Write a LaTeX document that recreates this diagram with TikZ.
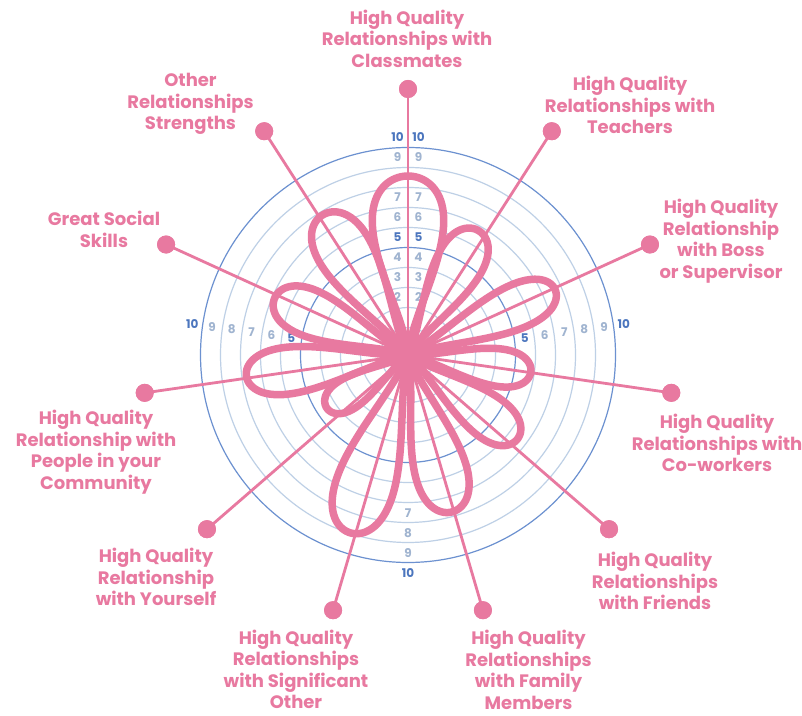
\documentclass[tikz,border=0pt]{standalone}
\usepackage{fontspec}
\newfontfamily\lblfont{Poppins Bold}
\definecolor{pinkc}{RGB}{232,121,160}
\definecolor{ringdark}{RGB}{108,145,208}
\definecolor{ringlight}{RGB}{190,208,230}
\definecolor{numdark}{RGB}{76,118,190}
\definecolor{numlight}{RGB}{160,180,208}
\begin{document}
\begin{tikzpicture}[x=1pt,y=1pt,
  ringd/.style={draw=ringdark, line width=1.2pt},
  ringl/.style={draw=ringlight, line width=1.2pt},
  spoke/.style={draw=pinkc, line width=2.8pt},
  petal/.style={draw=pinkc, line width=7.5pt, line join=round},
  dot/.style={circle, fill=pinkc, minimum size=18pt, inner sep=0pt},
  lbl/.style={text=pinkc, font=\lblfont\fontsize{18}{21.5}\selectfont, align=center, inner sep=0pt},
  numd/.style={text=numdark, font=\lblfont\fontsize{12}{12}\selectfont, inner sep=0pt},
  numl/.style={text=numlight, font=\lblfont\fontsize{12}{12}\selectfont, inner sep=0pt}]
\useasboundingbox[fill=white] (0,0) rectangle (802,715);
\coordinate (O) at (408,360);
% rings
\foreach \n in {1,2,3,4,6,7,8,9}{
  \draw[ringl] (O) circle[radius={20*\n+7.5}];
}
\foreach \n in {5,10}{
  \draw[ringd] (O) circle[radius={20*\n+7.5}];
}
% scale numbers
\foreach \n/\s in {2/numl,3/numl,4/numl,5/numd,6/numl,7/numl,9/numl,10/numd}{
  \path (O) ++(-10.5,{20*\n+18}) node[\s] (ntl\n) {\n};
  \path (O) ++(10.5,{20*\n+18}) node[\s] (ntr\n) {\n};
}
\foreach \n/\s in {5/numd,6/numl,7/numl,8/numl,9/numl,10/numd}{
  \path (O) ++(171.8:{20*\n+18}) node[\s] (nl\n) {\n};
  \path (O) ++(8.2:{20*\n+18}) node[\s] (nr\n) {\n};
}
\foreach \n/\s in {7/numl,8/numl,9/numl,10/numd}{
  \path (O) ++(-90:{20*\n+18}) node[\s] (nb\n) {\n};
}
% spokes and end dots
\foreach \i in {0,...,10}{
  \pgfmathsetmacro\ang{90-\i*360/11}
  \path (O) ++(\ang:266) node[dot] (d\i) {};
  \draw[spoke] (O) -- (d\i.center);
}
% petals
\foreach \a/\R/\H in {90/179/55, 60.6/143/36, 24/161/34, -7.9/124/29, -37.5/138/33,
  -74.2/163/40, -108.2/187/45, 213/97/24, 187.4/163/36, 156.9/145/36, 121.4/164/42}{
  \draw[petal, shift={(O)}, rotate=\a] plot[domain=0:360, samples=120, smooth]
    ({\R*(1-cos(\x))/2}, {\H*sin(\x)*(1-cos(\x))/2}) -- cycle;
}
% central hub
\fill[pinkc] (O) circle[radius=15];
% dots again on top
\foreach \i in {0,...,10}{
  \fill[pinkc] (d\i.center) circle[radius=9];
}
% labels
\node[lbl] (t0) at (407,676.5) {High Quality\\Relationships with\\Classmates};
\node[lbl] (t1) at (630,610) {High Quality\\Relationships with\\Teachers};
\node[lbl] (t2) at (721,474) {High Quality\\Relationship\\with Boss\\or Supervisor};
\node[lbl] (t3) at (717,272) {High Quality\\Relationships with\\Co-workers};
\node[lbl] (t4) at (655,134) {High Quality\\Relationships\\with Friends};
\node[lbl] (t5) at (528.5,45) {High Quality\\Relationships\\with Family\\Members};
\node[lbl] (t6) at (296,45.5) {High Quality\\Relationships\\with Significant\\Other};
\node[lbl] (t7) at (156,138) {High Quality\\Relationship\\with Yourself};
\node[lbl] (t8) at (96,263) {High Quality\\Relationship with\\People in your\\Community};
\node[lbl] (t9) at (104,485.5) {Great Social\\Skills};
\node[lbl] (t10) at (190.5,611) {Other\\Relationships\\Strengths};
\end{tikzpicture}
\end{document}
